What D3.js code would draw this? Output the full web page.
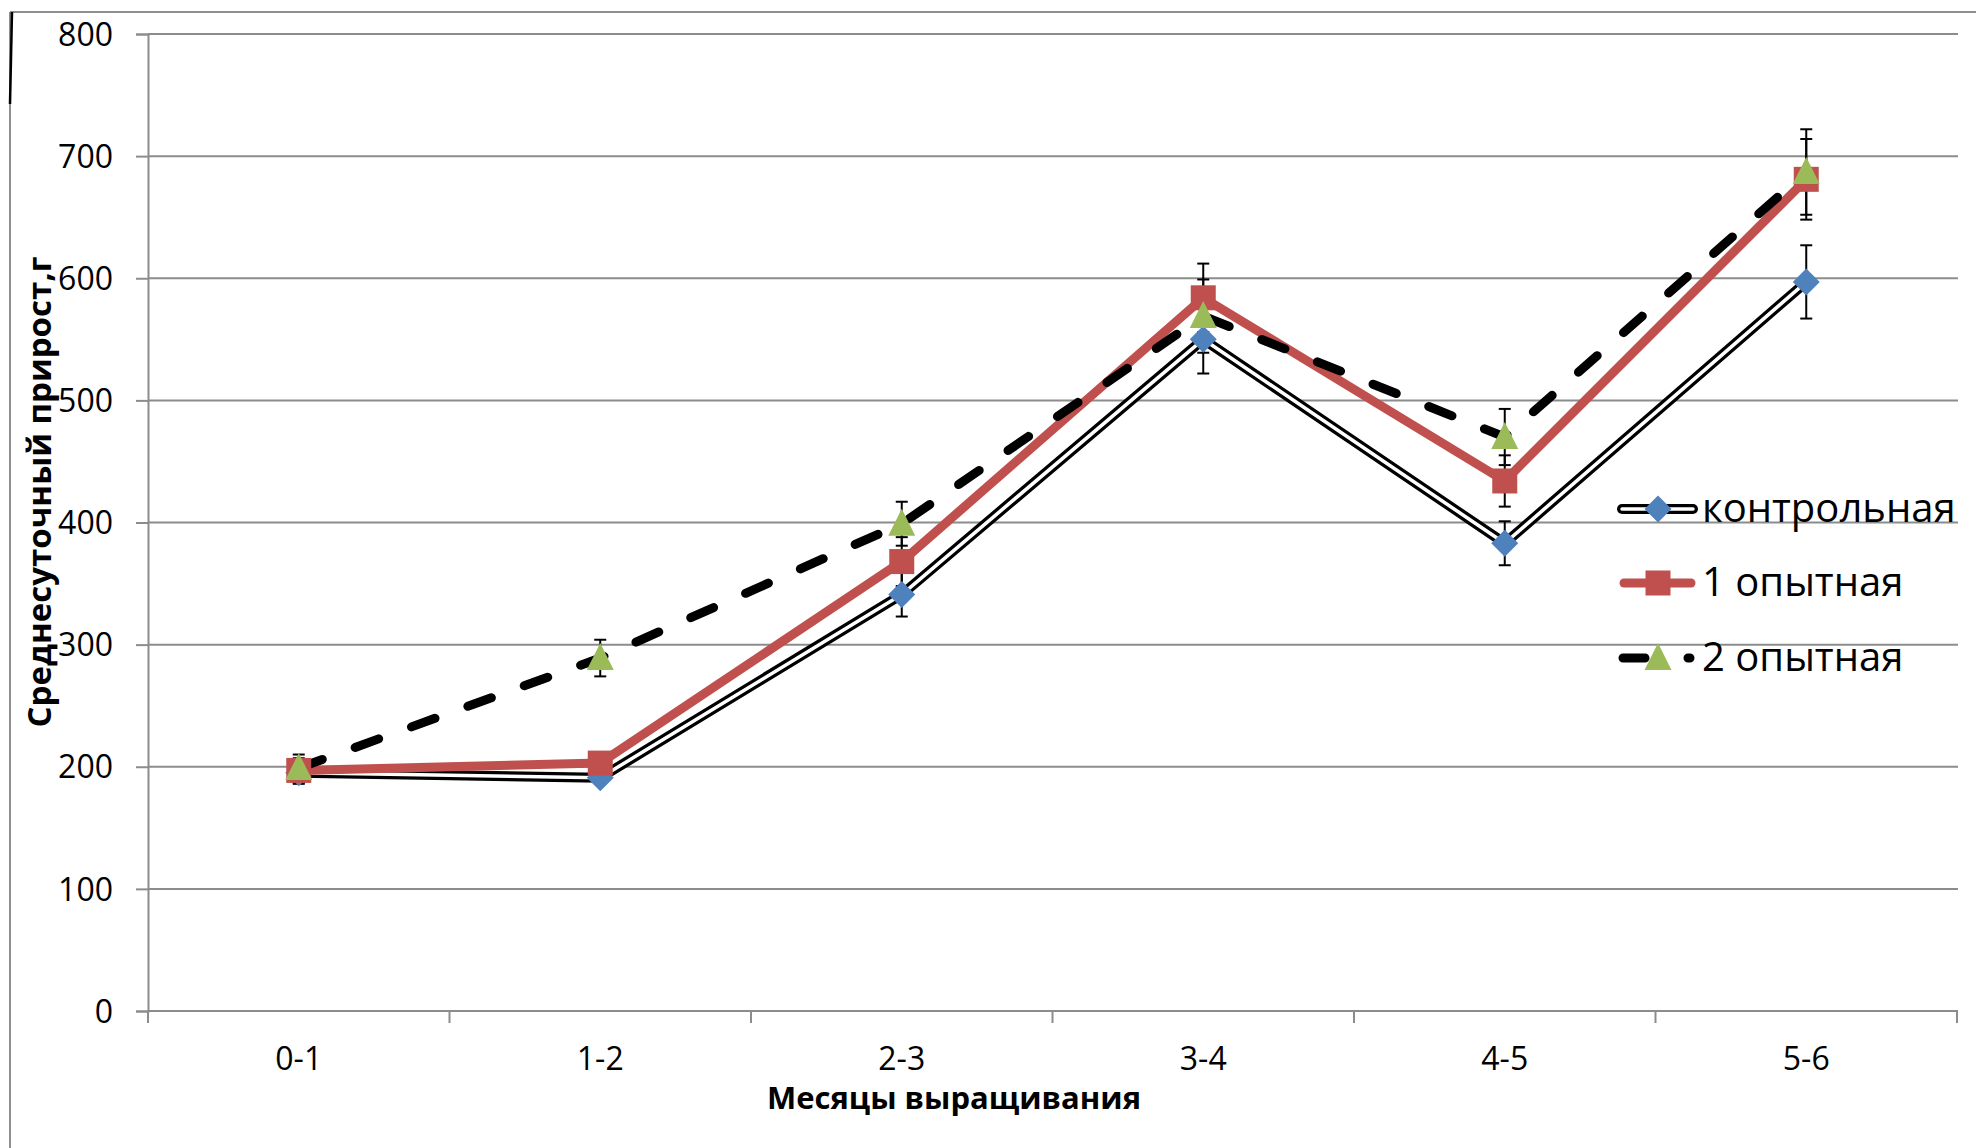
<!DOCTYPE html>
<html>
<head>
<meta charset="utf-8">
<script src="https://cdn.jsdelivr.net/npm/d3@7"></script>
<style>
  html, body { margin: 0; padding: 0; background: #fff; }
  svg { display: block; font-family: "Open Sans", sans-serif; }
</style>
</head>
<body>
<svg id="chart" width="1976" height="1148"></svg>
<script>
// ---- Data ----
const categories = ["0-1", "1-2", "2-3", "3-4", "4-5", "5-6"];
const controlValues = [195, 191, 341, 550, 383, 597];
const exp1Values = [197, 203, 368, 584, 434, 681];
const exp2Values = [199, 289, 399, 569, 470, 687];
const controlErr = [9, 5, 18, 28, 18, 30];
const exp1Err = [10, 8, 20, 28, 21, 33];
const exp2Err = [11, 15, 18, 30, 23, 35];
const yTicks = [0, 100, 200, 300, 400, 500, 600, 700, 800];
const seriesNames = ["контрольная", "1 опытная", "2 опытная"];
const xTitle = "Месяцы выращивания";
const yTitle = "Среднесуточный прирост,г";

const series = [
  { name: seriesNames[0], values: controlValues, err: controlErr, key: "control" },
  { name: seriesNames[1], values: exp1Values, err: exp1Err, key: "exp1" },
  { name: seriesNames[2], values: exp2Values, err: exp2Err, key: "exp2" }
];

// ---- Layout ----
const svg = d3.select("#chart");
const plot = { left: 148, right: 1957, top: 34, bottom: 1011 };
const x = d3.scaleBand().domain(categories).range([plot.left, plot.right]).padding(0);
const y = d3.scaleLinear().domain([0, 800]).range([plot.bottom, plot.top]);
const cx = c => x(c) + x.bandwidth() / 2;
const GRID = "#8c8c8c";
const BLUE = "#4F81BD", RED = "#C0504D", GREEN = "#9BBB59";

// outer frame
svg.append("line").attr("x1", 10).attr("y1", 12).attr("x2", 1976).attr("y2", 12)
  .attr("stroke", "#8f8f8f").attr("stroke-width", 2);
svg.append("line").attr("x1", 10).attr("y1", 12).attr("x2", 10).attr("y2", 1148)
  .attr("stroke", "#8f8f8f").attr("stroke-width", 2);
svg.append("line").attr("x1", 12).attr("y1", 12).attr("x2", 10).attr("y2", 104)
  .attr("stroke", "#000").attr("stroke-width", 2.5);

// gridlines
svg.append("g").selectAll("line").data(yTicks.filter(d => d > 0)).join("line")
  .attr("x1", plot.left).attr("x2", plot.right + 1)
  .attr("y1", d => y(d)).attr("y2", d => y(d))
  .attr("stroke", GRID).attr("stroke-width", 2);

// y axis
const yAxis = svg.append("g").attr("transform", `translate(${plot.left},0)`)
  .call(d3.axisLeft(y).tickValues(yTicks).tickSize(12).tickPadding(23).tickFormat(d3.format("d")));
yAxis.select(".domain").attr("stroke", GRID).attr("stroke-width", 2);
yAxis.selectAll(".tick line").attr("stroke", GRID).attr("stroke-width", 2);
yAxis.selectAll(".tick text").attr("font-size", 32).attr("fill", "#000")
  .attr("font-family", "Open Sans").attr("dy", "0.35em");

// x axis
const xAxisG = svg.append("g").attr("transform", `translate(0,${plot.bottom})`);
xAxisG.append("line").attr("x1", plot.left).attr("x2", plot.right + 1).attr("y1", 0).attr("y2", 0)
  .attr("stroke", GRID).attr("stroke-width", 2);
const bounds = categories.map(c => x(c)).concat([plot.right]);
xAxisG.selectAll("line.tk").data(bounds).join("line").attr("class", "tk")
  .attr("x1", d => d).attr("x2", d => d).attr("y1", 0).attr("y2", 12)
  .attr("stroke", GRID).attr("stroke-width", 2);
xAxisG.selectAll("text").data(categories).join("text")
  .attr("x", d => cx(d)).attr("y", 59)
  .attr("text-anchor", "middle").attr("font-size", 32).attr("fill", "#000")
  .text(d => d);

// axis titles
svg.append("text").attr("x", 954).attr("y", 1109).attr("text-anchor", "middle")
  .attr("font-size", 31).attr("font-weight", "bold").attr("fill", "#000").text(xTitle);
svg.append("text").attr("transform", "translate(51,492) rotate(-90)").attr("text-anchor", "middle")
  .attr("font-size", 33).attr("font-weight", "bold").attr("fill", "#000").text(yTitle);

// ---- Lines ----
const line = d3.line().x((d, i) => cx(categories[i])).y(d => y(d));
const gLines = svg.append("g").attr("fill", "none");
// control: double black line
gLines.append("path").attr("d", line(controlValues)).attr("stroke", "#000").attr("stroke-width", 10)
  .attr("stroke-linejoin", "round");
gLines.append("path").attr("d", line(controlValues)).attr("stroke", "#fff").attr("stroke-width", 3.5)
  .attr("stroke-linejoin", "round");
// exp1: red
gLines.append("path").attr("d", line(exp1Values)).attr("stroke", RED).attr("stroke-width", 9)
  .attr("stroke-linejoin", "round");
// exp2: dashed black
gLines.append("path").attr("d", line(exp2Values)).attr("stroke", "#000").attr("stroke-width", 9)
  .attr("stroke-dasharray", "25,35").attr("stroke-linecap", "round");

// ---- Error bars ----
const gErr = svg.append("g").attr("stroke", "#000").attr("stroke-width", 2);
series.forEach(s => {
  s.values.forEach((v, i) => {
    const px = cx(categories[i]);
    const y1 = y(v + s.err[i]), y2 = y(v - s.err[i]);
    gErr.append("line").attr("x1", px).attr("x2", px).attr("y1", y1).attr("y2", y2);
    gErr.append("line").attr("x1", px - 6).attr("x2", px + 6).attr("y1", y1).attr("y2", y1);
    gErr.append("line").attr("x1", px - 6).attr("x2", px + 6).attr("y1", y2).attr("y2", y2);
  });
});

// ---- Markers ----
function marker(g, key, px, py) {
  if (key === "control") {
    g.append("path").attr("d", `M${px},${py - 13.5}L${px + 13.5},${py}L${px},${py + 13.5}L${px - 13.5},${py}Z`)
      .attr("fill", BLUE);
  } else if (key === "exp1") {
    g.append("rect").attr("x", px - 12.5).attr("y", py - 12.5).attr("width", 25).attr("height", 25)
      .attr("fill", RED);
  } else {
    g.append("path").attr("d", `M${px},${py - 15}L${px + 13.5},${py + 12}L${px - 13.5},${py + 12}Z`)
      .attr("fill", GREEN);
  }
}
const gMarkers = svg.append("g");
series.forEach(s => {
  s.values.forEach((v, i) => marker(gMarkers, s.key, cx(categories[i]), y(v)));
});

// ---- Legend ----
const legendY = [509, 583, 658];
const lg = svg.append("g");
series.forEach((s, i) => {
  const ly = legendY[i];
  if (s.key === "control") {
    lg.append("line").attr("x1", 1622).attr("x2", 1693).attr("y1", ly).attr("y2", ly)
      .attr("stroke", "#000").attr("stroke-width", 10).attr("stroke-linecap", "round");
    lg.append("line").attr("x1", 1622).attr("x2", 1693).attr("y1", ly).attr("y2", ly)
      .attr("stroke", "#fff").attr("stroke-width", 3.5).attr("stroke-linecap", "round");
  } else if (s.key === "exp1") {
    lg.append("line").attr("x1", 1624).attr("x2", 1691).attr("y1", ly).attr("y2", ly)
      .attr("stroke", RED).attr("stroke-width", 9).attr("stroke-linecap", "round");
  } else {
    lg.append("line").attr("x1", 1623).attr("x2", 1690).attr("y1", ly).attr("y2", ly)
      .attr("stroke", "#000").attr("stroke-width", 9).attr("stroke-linecap", "round")
      .attr("stroke-dasharray", "22,43");
  }
  marker(lg, s.key, 1658, ly);
  lg.append("text").attr("x", 1702).attr("y", ly + 13).attr("font-size", 40).attr("fill", "#000")
    .text(s.name);
});
</script>
</body>
</html>
